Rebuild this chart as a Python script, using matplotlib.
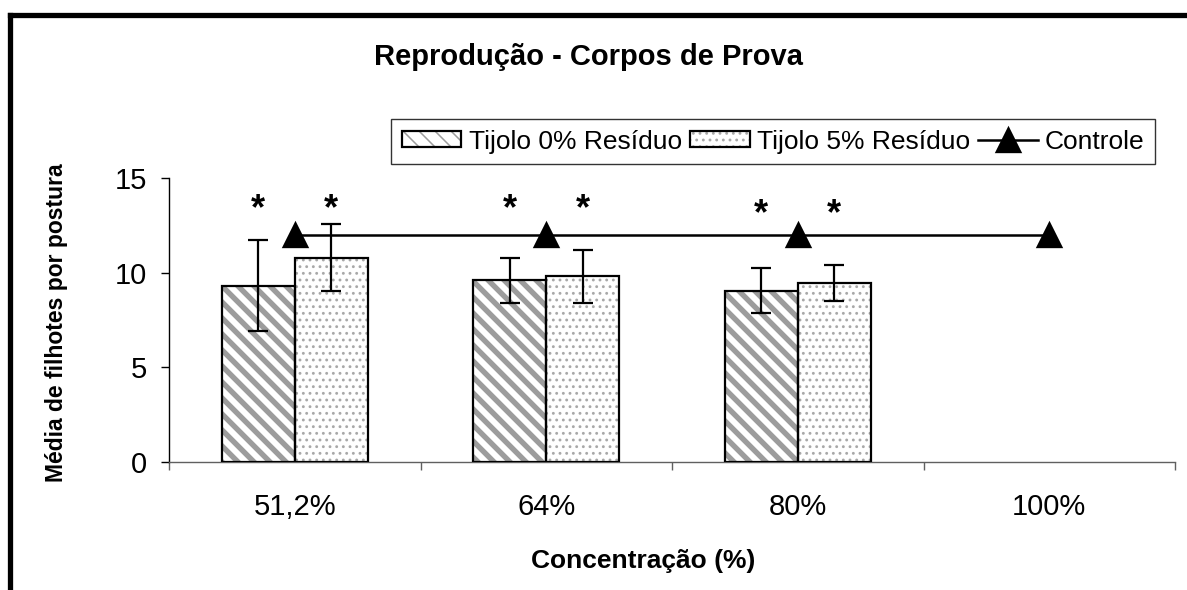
import numpy as np
import matplotlib
matplotlib.use('Agg')
import matplotlib.pyplot as plt
from matplotlib.patches import Patch
from matplotlib.lines import Line2D
import matplotlib.transforms as mtransforms

plt.rcParams['font.family'] = ['Liberation Sans', 'DejaVu Sans']

categorias = ['51,2%', '64%', '80%', '100%']
tijolo_0 = [9.3, 9.6, 9.05]
tijolo_0_err = [2.4, 1.2, 1.2]
tijolo_5 = [10.8, 9.8, 9.45]
tijolo_5_err = [1.75, 1.42, 0.93]
controle = [12, 12, 12, 12]
asterisco_y = [14.0, 14.0, 13.7]

# dpi alto so para acertar o espacamento das hachuras (listras ~16px, pontos ~7px)
DPI = 240
W, H = 1187, 590


def pt(v):
    # tamanho pensado para dpi 100 -> pontos no dpi real
    return v * 100 / DPI


fig = plt.figure(figsize=(W / DPI, H / DPI), dpi=DPI)
ax = fig.add_axes([169 / W, 1 - 462 / H, (1175 - 169) / W, (462 - 178) / H])

x = np.arange(len(tijolo_0))
w = 0.29
cor_listra = '#9c9c9c'
cor_ponto = '#a8a8a8'
hatch_listra = '\\' * 5
hatch_ponto = '.' * 6
lw_listra = pt(3.9)
lw_ponto = pt(1.1)


def set_hlw(patches, lw):
    for p in patches:
        if hasattr(p, 'set_hatch_linewidth'):
            p.set_hatch_linewidth(lw)


# camada das hachuras (cinza), depois contorno preto
plt.rcParams['hatch.linewidth'] = lw_listra
b0 = ax.bar(x - w / 2, tijolo_0, w, color='white', edgecolor=cor_listra, hatch=hatch_listra, linewidth=0, zorder=2)
set_hlw(b0, lw_listra)
plt.rcParams['hatch.linewidth'] = lw_ponto
b1 = ax.bar(x + w / 2, tijolo_5, w, color='white', edgecolor=cor_ponto, hatch=hatch_ponto, linewidth=0, zorder=2)
set_hlw(b1, lw_ponto)
ax.bar(x - w / 2, tijolo_0, w, fill=False, edgecolor='black', linewidth=pt(1.6), zorder=3)
ax.bar(x + w / 2, tijolo_5, w, fill=False, edgecolor='black', linewidth=pt(1.6), zorder=3)

ax.errorbar(x - w / 2, tijolo_0, yerr=tijolo_0_err, fmt='none', ecolor='black', elinewidth=pt(1.6),
            capsize=pt(7), capthick=pt(1.6), zorder=4)
ax.errorbar(x + w / 2, tijolo_5, yerr=tijolo_5_err, fmt='none', ecolor='black', elinewidth=pt(1.6),
            capsize=pt(7), capthick=pt(1.6), zorder=4)

ax.plot(np.arange(len(controle)), controle, color='black', linewidth=pt(1.8), marker='^',
        markersize=pt(16.5), zorder=5)

# asteriscos de significancia
off = mtransforms.offset_copy(ax.transData, fig=fig, x=0, y=-22, units='dots')
for i in range(len(asterisco_y)):
    for xx in (x[i] - w / 2, x[i] + w / 2):
        ax.text(xx, asterisco_y[i], '*', ha='center', va='baseline', fontsize=pt(26), fontweight='bold',
                transform=off)

ax.set_xlim(-0.5, 3.5)
ax.set_ylim(0, 15)
ax.set_yticks([0, 5, 10, 15])
ax.set_xticks(range(len(categorias)))
ax.set_xticklabels(categorias)
ax.set_xticks(np.arange(-0.5, 4, 1), minor=True)
ax.tick_params(axis='x', which='major', length=0, pad=pt(22), labelsize=pt(21))
ax.tick_params(axis='x', which='minor', length=pt(6), width=pt(1), direction='out', color='#606060')
ax.tick_params(axis='y', length=pt(6), direction='out', pad=pt(10), labelsize=pt(21), width=pt(1))
ax.spines['top'].set_visible(False)
ax.spines['right'].set_visible(False)
ax.spines['bottom'].set_color('#606060')
ax.spines['bottom'].set_linewidth(pt(1))
ax.spines['left'].set_color('black')
ax.spines['left'].set_linewidth(pt(1))

fig.text(589 / W, 1 - 57 / H, 'Reprodução - Corpos de Prova', ha='center', va='center',
         fontsize=pt(21), fontweight='bold')
fig.text(643 / W, 1 - 561 / H, 'Concentração (%)', ha='center', va='center', fontsize=pt(19),
         fontweight='bold')
fig.text(57 / W, 1 - 323 / H, 'Média de filhotes por postura', ha='center', va='center', rotation=90,
         fontsize=pt(16.5), fontweight='bold')

h0 = (Patch(facecolor='white', edgecolor=cor_listra, hatch=hatch_listra, linewidth=0),
      Patch(fill=False, edgecolor='black', linewidth=pt(1.6)))
h1 = (Patch(facecolor='white', edgecolor=cor_ponto, hatch=hatch_ponto, linewidth=0),
      Patch(fill=False, edgecolor='black', linewidth=pt(1.6)))
set_hlw([h0[0]], lw_listra)
set_hlw([h1[0]], lw_ponto)
h2 = Line2D([], [], color='black', linewidth=pt(1.8), marker='^', markersize=pt(16.5))
leg = fig.legend([h0, h1, h2], ['Tijolo 0% Resíduo', 'Tijolo 5% Resíduo', 'Controle'],
                 loc='upper left', bbox_to_anchor=(391 / W, 1 - 119 / H), ncol=3,
                 fontsize=pt(19), frameon=True, fancybox=False, shadow=False,
                 handlelength=2.27, handleheight=0.53, handletextpad=0.27, columnspacing=0.3,
                 borderpad=0.4, borderaxespad=0)
leg.get_frame().set_edgecolor('black')
leg.get_frame().set_linewidth(pt(1.0))

# moldura externa grossa (topo e esquerda)
fig.add_artist(Line2D([10 / W, 1], [1 - 15 / H, 1 - 15 / H], color='black', linewidth=pt(3.8),
                      transform=fig.transFigure, solid_capstyle='projecting'))
fig.add_artist(Line2D([10 / W, 10 / W], [1 - 15 / H, 0], color='black', linewidth=pt(3.8),
                      transform=fig.transFigure, solid_capstyle='projecting'))

fig.savefig('out.png', dpi=DPI)
